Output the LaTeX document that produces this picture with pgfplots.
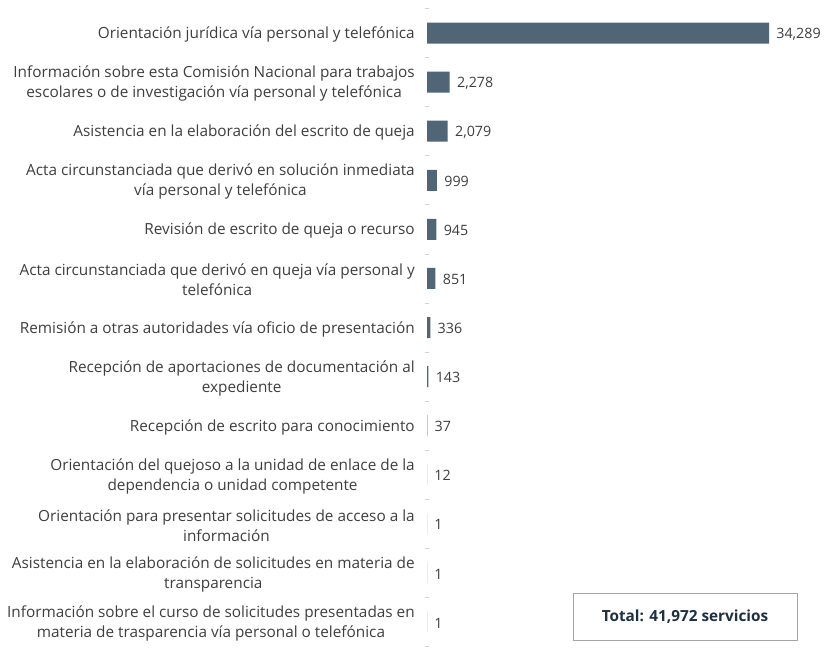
\documentclass[border=0pt]{standalone}
\usepackage{fontspec}
\setmainfont{Open Sans}
\usepackage{pgfplots}
\pgfplotsset{compat=1.18}
\definecolor{barcol}{RGB}{80,101,117}
\definecolor{txt}{RGB}{62,62,62}
\definecolor{navy}{RGB}{28,48,66}
\begin{document}
\begin{tikzpicture}
\path[use as bounding box] (0pt,0pt) rectangle (618pt,486pt);
\begin{axis}[
  at={(320.25pt,1.125pt)}, anchor=south west,
  scale only axis, width=299.25pt, height=478.5pt,
  xmin=0, xmax=40000, ymin=-0.5, ymax=12.5,
  y dir=reverse,
  hide x axis,
  y axis line style={draw=none},
  xbar, bar width=15.75pt,
  ytick={0,...,12},
  ytick pos=left,
  major tick length=0pt,
  tick align=center,
  extra y ticks={-0.5,0.5,...,12.5},
  extra y tick labels={},
  extra y tick style={major tick length=2.5pt, tick style={draw=gray!35, line width=0.5pt}},
  yticklabel style={align=center, font=\fontsize{11.5}{15}\selectfont, text=txt, inner sep=0pt, xshift=-9pt, yshift=-1.2pt},
  yticklabels={
    {Orientación jurídica vía personal y telefónica},
    {Información sobre esta Comisión Nacional para trabajos\\escolares o de investigación vía personal y telefónica},
    {Asistencia en la elaboración del escrito de queja},
    {Acta circunstanciada que derivó en solución inmediata\\vía personal y telefónica},
    {Revisión de escrito de queja o recurso},
    {Acta circunstanciada que derivó en queja vía personal y\\telefónica},
    {Remisión a otras autoridades vía oficio de presentación},
    {Recepción de aportaciones de documentación al\\expediente},
    {Recepción de escrito para conocimiento},
    {Orientación del quejoso a la unidad de enlace de la\\dependencia o unidad competente},
    {Orientación para presentar solicitudes de acceso a la\\información},
    {Asistencia en la elaboración de solicitudes en materia de\\transparencia},
    {Información sobre el curso de solicitudes presentadas en\\materia de trasparencia vía personal o telefónica}
  },
  point meta=x,
  nodes near coords,
  nodes near coords align={horizontal},
  every node near coord/.append style={font=\fontsize{10.7}{12}\selectfont, text=txt, anchor=west, xshift=2pt, yshift=-0.8pt},
  /pgf/number format/.cd, 1000 sep={,}, assume math mode=true,
]
\addplot[draw=none, fill=barcol]
  coordinates {
    (34289,0) (2278,1) (2079,2) (999,3) (945,4) (851,5) (336,6)
    (143,7) (37,8) (12,9) (1,10) (1,11) (1,12)
  };
\end{axis}
\draw[gray!70, line width=0.6pt] (429.75pt,5.625pt) rectangle (597.75pt,40.875pt);
\node[font=\fontsize{11.5}{14}\selectfont\bfseries, text=navy] at (513.75pt,23.25pt) {Total: 41,972 servicios};
\end{tikzpicture}
\end{document}
